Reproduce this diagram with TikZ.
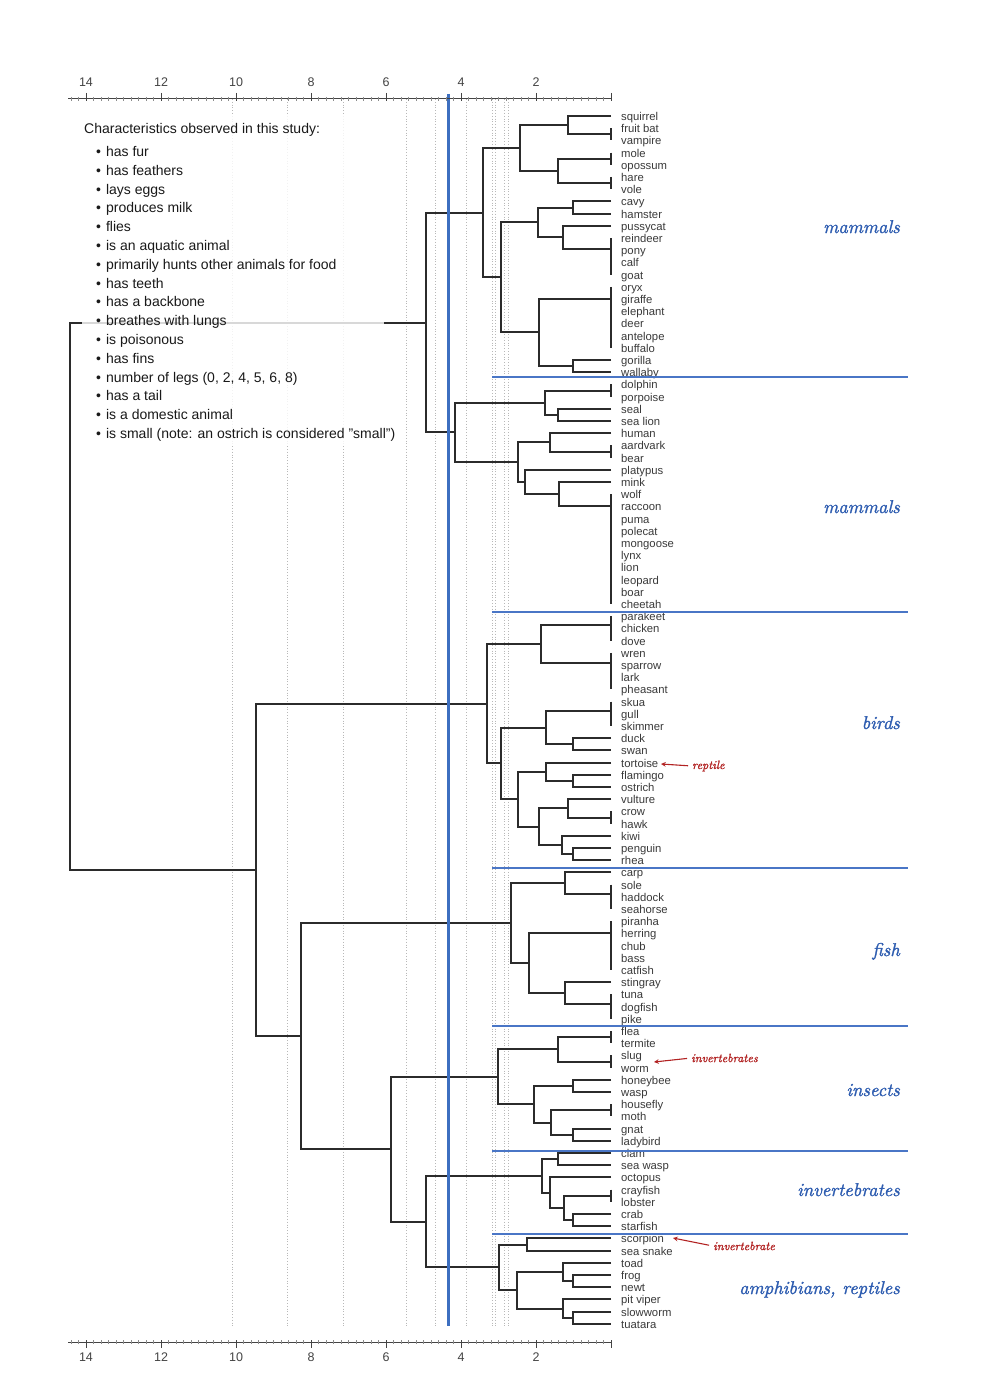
\documentclass[tikz,border=0pt]{standalone}
\usepackage{fontspec}
\setmainfont{Liberation Sans}
\newfontfamily\callig{lmroman10-italic.otf}[FakeBold=1.4]
\usetikzlibrary{calc}

\definecolor{branchc}{HTML}{2B2B2B}
\definecolor{leafc}{HTML}{3A3A3A}
\definecolor{axisc}{HTML}{444444}
\definecolor{cutblue}{HTML}{3D6FC0}
\definecolor{sepblue}{HTML}{4A76C6}
\definecolor{groupblue}{HTML}{2D5CB0}
\definecolor{notered}{HTML}{B22222}

\newcommand{\itm}{\textbullet\hspace{5pt}}

% one merge of the tree: name, height (x), first child, second child
\newcommand{\clus}[4]{%
  \coordinate (#1-m) at ($(#3)!0.5!(#4)$);
  \coordinate (#1) at (#2,0 |- #1-m);
  \draw[branch] (#3) -| (#1) |- (#4);
}

\tikzset{
  branch/.style={draw=branchc, line width=2pt},
  leaf/.style={anchor=west, xshift=10pt, inner sep=0pt, text height=11pt, text depth=2pt,
    font=\fontsize{11.3}{12}\selectfont, text=leafc},
  guide/.style={draw=black!28, line width=0.8pt, dotted},
  axlab/.style={font=\fontsize{12.5}{14}\selectfont, text=axisc, inner sep=0pt},
  legtitle/.style={anchor=west, inner sep=0pt, text height=10pt, text depth=3pt,
    font=\fontsize{14}{17}\selectfont, text=black!90},
  legitem/.style={legtitle},
  grouplab/.style={anchor=base east, inner sep=0pt, text=groupblue, font=\fontsize{18.5}{22}\callig},
  note/.style={anchor=west, inner sep=0pt, text=notered, font=\fontsize{12}{14}\callig},
  notearrow/.style={->, draw=notered, line width=1.1pt, shorten <=4pt},
  sep/.style={draw=sepblue, line width=1.5pt},
}

\begin{document}
\begin{tikzpicture}[x=1pt, y=-1pt, >=stealth]
\fill[white] (0,0) rectangle (1000,1399);
\useasboundingbox (0,0) rectangle (1000,1399);

% dotted guides
\draw[guide] (232,99) -- (232,1326);
\draw[guide] (287,99) -- (287,1326);
\draw[guide] (343,99) -- (343,1326);
\draw[guide] (406,99) -- (406,1326);
\draw[guide] (435,99) -- (435,1326);
\draw[guide] (466,99) -- (466,1326);
\draw[guide] (492,99) -- (492,1326);
\draw[guide] (495,99) -- (495,1326);
\draw[guide] (504.5,99) -- (504.5,1326);
\draw[guide] (508,99) -- (508,1326);

% leaves
\path (611,116.0) coordinate (l1) node[leaf] (t1) {squirrel};
\path (611,128.2) coordinate (l2) node[leaf] (t2) {fruit bat};
\path (611,140.4) coordinate (l3) node[leaf] (t3) {vampire};
\path (611,152.6) coordinate (l4) node[leaf] (t4) {mole};
\path (611,164.8) coordinate (l5) node[leaf] (t5) {opossum};
\path (611,177.0) coordinate (l6) node[leaf] (t6) {hare};
\path (611,189.2) coordinate (l7) node[leaf] (t7) {vole};
\path (611,201.4) coordinate (l8) node[leaf] (t8) {cavy};
\path (611,213.6) coordinate (l9) node[leaf] (t9) {hamster};
\path (611,225.8) coordinate (l10) node[leaf] (t10) {pussycat};
\path (611,238.0) coordinate (l11) node[leaf] (t11) {reindeer};
\path (611,250.2) coordinate (l12) node[leaf] (t12) {pony};
\path (611,262.4) coordinate (l13) node[leaf] (t13) {calf};
\path (611,274.6) coordinate (l14) node[leaf] (t14) {goat};
\path (611,286.8) coordinate (l15) node[leaf] (t15) {oryx};
\path (611,299.0) coordinate (l16) node[leaf] (t16) {giraffe};
\path (611,311.2) coordinate (l17) node[leaf] (t17) {elephant};
\path (611,323.4) coordinate (l18) node[leaf] (t18) {deer};
\path (611,335.6) coordinate (l19) node[leaf] (t19) {antelope};
\path (611,347.8) coordinate (l20) node[leaf] (t20) {buffalo};
\path (611,360.0) coordinate (l21) node[leaf] (t21) {gorilla};
\path (611,372.2) coordinate (l22) node[leaf] (t22) {wallaby};
\path (611,384.4) coordinate (l23) node[leaf] (t23) {dolphin};
\path (611,396.6) coordinate (l24) node[leaf] (t24) {porpoise};
\path (611,408.8) coordinate (l25) node[leaf] (t25) {seal};
\path (611,421.0) coordinate (l26) node[leaf] (t26) {sea lion};
\path (611,433.2) coordinate (l27) node[leaf] (t27) {human};
\path (611,445.4) coordinate (l28) node[leaf] (t28) {aardvark};
\path (611,457.6) coordinate (l29) node[leaf] (t29) {bear};
\path (611,469.8) coordinate (l30) node[leaf] (t30) {platypus};
\path (611,482.0) coordinate (l31) node[leaf] (t31) {mink};
\path (611,494.2) coordinate (l32) node[leaf] (t32) {wolf};
\path (611,506.4) coordinate (l33) node[leaf] (t33) {raccoon};
\path (611,518.6) coordinate (l34) node[leaf] (t34) {puma};
\path (611,530.8) coordinate (l35) node[leaf] (t35) {polecat};
\path (611,543.0) coordinate (l36) node[leaf] (t36) {mongoose};
\path (611,555.2) coordinate (l37) node[leaf] (t37) {lynx};
\path (611,567.4) coordinate (l38) node[leaf] (t38) {lion};
\path (611,579.6) coordinate (l39) node[leaf] (t39) {leopard};
\path (611,591.8) coordinate (l40) node[leaf] (t40) {boar};
\path (611,604.0) coordinate (l41) node[leaf] (t41) {cheetah};
\path (611,616.2) coordinate (l42) node[leaf] (t42) {parakeet};
\path (611,628.4) coordinate (l43) node[leaf] (t43) {chicken};
\path (611,640.6) coordinate (l44) node[leaf] (t44) {dove};
\path (611,652.8) coordinate (l45) node[leaf] (t45) {wren};
\path (611,665.0) coordinate (l46) node[leaf] (t46) {sparrow};
\path (611,677.2) coordinate (l47) node[leaf] (t47) {lark};
\path (611,689.4) coordinate (l48) node[leaf] (t48) {pheasant};
\path (611,701.6) coordinate (l49) node[leaf] (t49) {skua};
\path (611,713.8) coordinate (l50) node[leaf] (t50) {gull};
\path (611,726.0) coordinate (l51) node[leaf] (t51) {skimmer};
\path (611,738.2) coordinate (l52) node[leaf] (t52) {duck};
\path (611,750.4) coordinate (l53) node[leaf] (t53) {swan};
\path (611,762.6) coordinate (l54) node[leaf] (t54) {tortoise};
\path (611,774.8) coordinate (l55) node[leaf] (t55) {flamingo};
\path (611,787.0) coordinate (l56) node[leaf] (t56) {ostrich};
\path (611,799.2) coordinate (l57) node[leaf] (t57) {vulture};
\path (611,811.4) coordinate (l58) node[leaf] (t58) {crow};
\path (611,823.6) coordinate (l59) node[leaf] (t59) {hawk};
\path (611,835.8) coordinate (l60) node[leaf] (t60) {kiwi};
\path (611,848.0) coordinate (l61) node[leaf] (t61) {penguin};
\path (611,860.2) coordinate (l62) node[leaf] (t62) {rhea};
\path (611,872.4) coordinate (l63) node[leaf] (t63) {carp};
\path (611,884.6) coordinate (l64) node[leaf] (t64) {sole};
\path (611,896.8) coordinate (l65) node[leaf] (t65) {haddock};
\path (611,909.0) coordinate (l66) node[leaf] (t66) {seahorse};
\path (611,921.2) coordinate (l67) node[leaf] (t67) {piranha};
\path (611,933.4) coordinate (l68) node[leaf] (t68) {herring};
\path (611,945.6) coordinate (l69) node[leaf] (t69) {chub};
\path (611,957.8) coordinate (l70) node[leaf] (t70) {bass};
\path (611,970.0) coordinate (l71) node[leaf] (t71) {catfish};
\path (611,982.2) coordinate (l72) node[leaf] (t72) {stingray};
\path (611,994.4) coordinate (l73) node[leaf] (t73) {tuna};
\path (611,1006.6) coordinate (l74) node[leaf] (t74) {dogfish};
\path (611,1018.8) coordinate (l75) node[leaf] (t75) {pike};
\path (611,1031.0) coordinate (l76) node[leaf] (t76) {flea};
\path (611,1043.2) coordinate (l77) node[leaf] (t77) {termite};
\path (611,1055.4) coordinate (l78) node[leaf] (t78) {slug};
\path (611,1067.6) coordinate (l79) node[leaf] (t79) {worm};
\path (611,1079.8) coordinate (l80) node[leaf] (t80) {honeybee};
\path (611,1092.0) coordinate (l81) node[leaf] (t81) {wasp};
\path (611,1104.2) coordinate (l82) node[leaf] (t82) {housefly};
\path (611,1116.4) coordinate (l83) node[leaf] (t83) {moth};
\path (611,1128.6) coordinate (l84) node[leaf] (t84) {gnat};
\path (611,1140.8) coordinate (l85) node[leaf] (t85) {ladybird};
\path (611,1153.0) coordinate (l86) node[leaf] (t86) {clam};
\path (611,1165.2) coordinate (l87) node[leaf] (t87) {sea wasp};
\path (611,1177.4) coordinate (l88) node[leaf] (t88) {octopus};
\path (611,1189.6) coordinate (l89) node[leaf] (t89) {crayfish};
\path (611,1201.8) coordinate (l90) node[leaf] (t90) {lobster};
\path (611,1214.0) coordinate (l91) node[leaf] (t91) {crab};
\path (611,1226.2) coordinate (l92) node[leaf] (t92) {starfish};
\path (611,1238.4) coordinate (l93) node[leaf] (t93) {scorpion};
\path (611,1250.6) coordinate (l94) node[leaf] (t94) {sea snake};
\path (611,1262.8) coordinate (l95) node[leaf] (t95) {toad};
\path (611,1275.0) coordinate (l96) node[leaf] (t96) {frog};
\path (611,1287.2) coordinate (l97) node[leaf] (t97) {newt};
\path (611,1299.4) coordinate (l98) node[leaf] (t98) {pit viper};
\path (611,1311.6) coordinate (l99) node[leaf] (t99) {slowworm};
\path (611,1323.8) coordinate (l100) node[leaf] (t100) {tuatara};

% mammals, upper block
\clus{fv}{611}{l2}{l3}
\clus{sfv}{568}{l1}{fv}
\clus{mo}{611}{l4}{l5}
\clus{hv}{611}{l6}{l7}
\clus{mohv}{558}{mo}{hv}
\clus{ma1}{520}{sfv}{mohv}
\clus{ch}{573}{l8}{l9}
\clus{cg}{611}{l13}{l14}
\clus{pcg}{611}{l12}{cg}
\clus{rpcg}{611}{l11}{pcg}
\clus{pu}{563}{l10}{rpcg}
\clus{ma2}{538}{ch}{pu}
\clus{ab}{611}{l19}{l20}
\clus{dab}{611}{l18}{ab}
\clus{eab}{611}{l17}{dab}
\clus{gab}{611}{l16}{eab}
\clus{oab}{611}{l15}{gab}
\clus{gw}{573}{l21}{l22}
\clus{ma3}{539}{oab}{gw}
\clus{ma4}{501}{ma2}{ma3}
\clus{mamA}{483}{ma1}{ma4}

% mammals, lower block
\clus{dop}{611}{l23}{l24}
\clus{sls}{558}{l25}{l26}
\clus{mb1}{545}{dop}{sls}
\clus{abr}{611}{l28}{l29}
\clus{hab}{550}{l27}{abr}
\clus{z40}{611}{l40}{l41}
\clus{z39}{611}{l39}{z40}
\clus{z38}{611}{l38}{z39}
\clus{z37}{611}{l37}{z38}
\clus{z36}{611}{l36}{z37}
\clus{z35}{611}{l35}{z36}
\clus{z34}{611}{l34}{z35}
\clus{z33}{611}{l33}{z34}
\clus{z32}{611}{l32}{z33}
\clus{mw}{559}{l31}{z32}
\clus{pmw}{525}{l30}{mw}
\clus{mb2}{518}{hab}{pmw}
\clus{mamB}{455}{mb1}{mb2}
\clus{mammals}{426}{mamA}{mamB}

% birds
\clus{cd}{611}{l43}{l44}
\clus{pcd}{611}{l42}{cd}
\clus{lp}{611}{l47}{l48}
\clus{slp}{611}{l46}{lp}
\clus{wslp}{611}{l45}{slp}
\clus{bi1}{541}{pcd}{wslp}
\clus{gs}{611}{l50}{l51}
\clus{sgs}{611}{l49}{gs}
\clus{ds}{573}{l52}{l53}
\clus{bi2}{546}{sgs}{ds}
\clus{fo}{573}{l55}{l56}
\clus{tfo}{546}{l54}{fo}
\clus{chw}{611}{l58}{l59}
\clus{vch}{568}{l57}{chw}
\clus{pr}{573}{l61}{l62}
\clus{kpr}{562}{l60}{pr}
\clus{bi3}{539}{vch}{kpr}
\clus{bi4}{518}{tfo}{bi3}
\clus{bi5}{501}{bi2}{bi4}
\clus{birds}{487}{bi1}{bi5}

% fish
\clus{hs}{611}{l65}{l66}
\clus{shs}{611}{l64}{hs}
\clus{fi1}{565}{l63}{shs}
\clus{bc}{611}{l70}{l71}
\clus{cbc}{611}{l69}{bc}
\clus{hbc}{611}{l68}{cbc}
\clus{pbc}{611}{l67}{hbc}
\clus{dp}{611}{l74}{l75}
\clus{tdp}{611}{l73}{dp}
\clus{fi2}{565}{l72}{tdp}
\clus{fi3}{529}{pbc}{fi2}
\clus{fish}{511}{fi1}{fi3}

% insects
\clus{ft}{611}{l76}{l77}
\clus{sw}{611}{l78}{l79}
\clus{in1}{558}{ft}{sw}
\clus{hw}{573}{l80}{l81}
\clus{hm}{611}{l82}{l83}
\clus{gl}{573}{l84}{l85}
\clus{in2}{551}{hm}{gl}
\clus{in3}{534}{hw}{in2}
\clus{insects}{498}{in1}{in3}

% other invertebrates
\clus{cs}{558}{l86}{l87}
\clus{cl}{611}{l89}{l90}
\clus{cst}{573}{l91}{l92}
\clus{iv1}{564}{cl}{cst}
\clus{iv2}{550}{l88}{iv1}
\clus{inverts}{542}{cs}{iv2}

% amphibians, reptiles
\clus{ss}{527}{l93}{l94}
\clus{fn}{573}{l96}{l97}
\clus{tfn}{563}{l95}{fn}
\clus{stu}{573}{l99}{l100}
\clus{pst}{563}{l98}{stu}
\clus{am1}{517}{tfn}{pst}
\clus{amph}{499}{ss}{am1}

% top levels
\clus{ia}{426}{inverts}{amph}
\clus{iia}{391}{insects}{ia}
\clus{fiia}{301}{fish}{iia}
\clus{rest}{256}{birds}{fiia}
\clus{root}{70}{mammals}{rest}

% legend
\fill[white, fill opacity=0.82] (82,114) rectangle (384,446);
\node[legtitle] (legtitle) at (84,130) {Characteristics observed in this study:};
\node[legitem] (f1) at (96,153.0) {\itm has fur};
\node[legitem] (f2) at (96,171.8) {\itm has feathers};
\node[legitem] (f3) at (96,190.6) {\itm lays eggs};
\node[legitem] (f4) at (96,209.4) {\itm produces milk};
\node[legitem] (f5) at (96,228.2) {\itm flies};
\node[legitem] (f6) at (96,247.0) {\itm is an aquatic animal};
\node[legitem] (f7) at (96,265.8) {\itm primarily hunts other animals for food};
\node[legitem] (f8) at (96,284.6) {\itm has teeth};
\node[legitem] (f9) at (96,303.4) {\itm has a backbone};
\node[legitem] (f10) at (96,322.2) {\itm breathes with lungs};
\node[legitem] (f11) at (96,341.0) {\itm is poisonous};
\node[legitem] (f12) at (96,359.8) {\itm has fins};
\node[legitem] (f13) at (96,378.6) {\itm number of legs (0, 2, 4, 5, 6, 8)};
\node[legitem] (f14) at (96,397.4) {\itm has a tail};
\node[legitem] (f15) at (96,416.2) {\itm is a domestic animal};
\node[legitem] (f16) at (96,435.0) {\itm is small (note: an ostrich is considered "small")};

% cut line and group separators
\draw[cutblue, line width=3pt] (448,94) -- (448,1326);
\draw[sep] (492,377) -- (908,377);
\draw[sep] (492,612) -- (908,612);
\draw[sep] (492,868) -- (908,868);
\draw[sep] (492,1026) -- (908,1026);
\draw[sep] (492,1151) -- (908,1151);
\draw[sep] (492,1234) -- (908,1234);

% group names
\node[grouplab] (gmam1) at (900,233) {mammals};
\node[grouplab] (gmam2) at (900,513) {mammals};
\node[grouplab] (gbird) at (900,729) {birds};
\node[grouplab] (gfish) at (900,956) {fish};
\node[grouplab] (ginsect) at (900,1096) {insects};
\node[grouplab] (ginv) at (900,1196) {invertebrates};
\node[grouplab] (gamph) at (900,1294) {amphibians, reptiles};

% notes
\coordinate (tiprep) at (661,764);
\coordinate (tipinv) at (654,1062);
\coordinate (tipsco) at (673,1238);
\node[note] (nrep) at (692,766) {reptile};
\node[note] (ninv) at (691,1058) {invertebrates};
\node[note] (nsco) at (713,1246) {invertebrate};
\draw[notearrow] (nrep.west) -- (tiprep);
\draw[notearrow] (ninv.west) -- (tipinv);
\draw[notearrow] (nsco.west) -- (tipsco);

% axes
\draw[axisc, line width=1pt] (68,99) -- (611,99);
\draw[axisc, line width=1pt] (68,1342) -- (611,1342);
\foreach \k in {0,...,72} {
  \draw[black!45, line width=0.7pt] ({611-7.5*\k},97) -- ({611-7.5*\k},101);
  \draw[black!45, line width=0.7pt] ({611-7.5*\k},1340) -- ({611-7.5*\k},1344);
}
\foreach \v in {0,2,...,14} {
  \draw[axisc, line width=1pt] ({611-37.5*\v},93) -- ({611-37.5*\v},101);
  \draw[axisc, line width=1pt] ({611-37.5*\v},1340) -- ({611-37.5*\v},1348);
}
\node[axlab] (tl14) at (86,82) {14};
\node[axlab] (tl12) at (161,82) {12};
\node[axlab] (tl10) at (236,82) {10};
\node[axlab] (tl8) at (311,82) {8};
\node[axlab] (tl6) at (386,82) {6};
\node[axlab] (tl4) at (461,82) {4};
\node[axlab] (tl2) at (536,82) {2};
\node[axlab] (bl14) at (86,1357) {14};
\node[axlab] (bl12) at (161,1357) {12};
\node[axlab] (bl10) at (236,1357) {10};
\node[axlab] (bl8) at (311,1357) {8};
\node[axlab] (bl6) at (386,1357) {6};
\node[axlab] (bl4) at (461,1357) {4};
\node[axlab] (bl2) at (536,1357) {2};
\end{tikzpicture}
\end{document}
